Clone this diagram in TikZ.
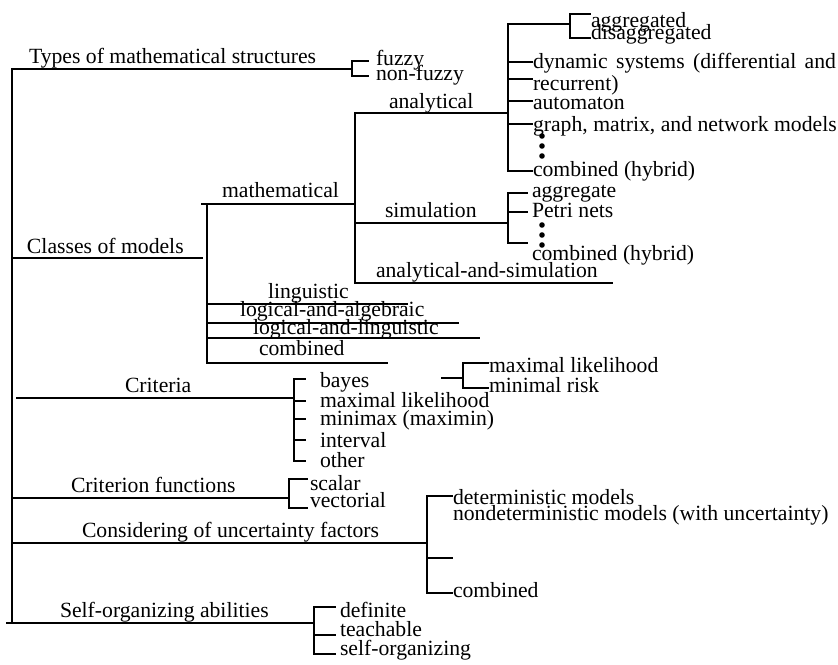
\documentclass[tikz,border=0pt]{standalone}
\usepackage{fontspec}
\setmainfont{Liberation Serif}
\begin{document}
\begin{tikzpicture}[x=1pt,y=-1pt,
  tree/.style={line width=1.3pt,line cap=rect},
  lbl/.style={anchor=base west,inner sep=0pt,outer sep=0pt,font=\fontsize{21.7}{22}\selectfont},
  dotmark/.style={circle,fill=black,inner sep=0pt,minimum size=5.6pt}]
\useasboundingbox (0,0) rectangle (838,664);

% ---------- trunk ----------
\coordinate (root-top) at (12,69);
\coordinate (root-bot) at (12,623);
\draw[tree] (root-top) -- (root-bot);

% ---------- types of mathematical structures ----------
\node[lbl] (types) at (29,63) {Types of mathematical structures};
\coordinate (fz-top) at (352,61);
\coordinate (fz-bot) at (352,76);
\coordinate (fz-a) at (368,61);
\coordinate (fz-b) at (368,76);
\draw[tree] (root-top) -- (root-top -| fz-top);
\draw[tree] (fz-a) -- (fz-top) -- (fz-bot) -- (fz-b);
\node[lbl] (fuzzy) at (376,65) {fuzzy};
\node[lbl] (nonfuzzy) at (376,80) {non-fuzzy};

% ---------- classes of models ----------
\node[lbl] (classes) at (27,253) {Classes of models};
\coordinate (cls-l) at (12,258);
\coordinate (cls-r) at (202,258);
\draw[tree] (cls-l) -- (cls-r);

\coordinate (mb-top) at (207,204);
\coordinate (mb-bot) at (207,363);
\draw[tree] (mb-top) -- (mb-bot);
\node[lbl] (mathematical) at (222,197) {mathematical};
\coordinate (ms-l) at (202,204);
\coordinate (ms-r) at (355,204);
\draw[tree] (ms-l) -- (ms-r);

% analytical / simulation bar
\coordinate (as-top) at (355,113);
\coordinate (as-bot) at (355,283);
\draw[tree] (as-top) -- (as-bot);

% analytical
\node[lbl] (analytical) at (389,108) {analytical};
\coordinate (ab-top) at (508,24);
\coordinate (ab-bot) at (508,171);
\draw[tree] (as-top) -- (as-top -| ab-top);
\draw[tree] (ab-top) -- (ab-bot);
\coordinate (ag-top) at (570,14);
\coordinate (ag-bot) at (570,38);
\draw[tree] (ab-top) -- (ab-top -| ag-top);
\draw[tree] (ag-top) -- (ag-bot);
\coordinate (ag-a) at (590,14);
\coordinate (ag-b) at (590,38);
\draw[tree] (ag-top) -- (ag-a);
\draw[tree] (ag-bot) -- (ag-b);
\node[lbl] (aggregated) at (591,27) {aggregated};
\node[lbl] (disaggregated) at (591,39) {disaggregated};
\foreach \yy/\nm in {62/dyn,79/rec,101/aut,124/gra,171/com} {
  \coordinate (an-\nm) at (532,\yy);
  \draw[tree] (ab-top |- an-\nm) -- (an-\nm);
}
\node[lbl] (dynamic) at (533,68) {\makebox[303pt][s]{dynamic systems (differential and}};
\node[lbl] (recurrent) at (533,90) {recurrent)};
\node[lbl] (automaton) at (533,109) {automaton};
\node[lbl] (graph) at (533,131) {graph, matrix, and network models};
\node[dotmark] (ad1) at (542,136) {};
\node[dotmark] (ad2) at (542,146) {};
\node[dotmark] (ad3) at (542,156) {};
\node[lbl] (anhybrid) at (533,176) {combined (hybrid)};

% simulation
\node[lbl] (simulation) at (385,217) {simulation};
\coordinate (sb-top) at (508,193);
\coordinate (sb-bot) at (508,243);
\coordinate (sim-l) at (355,223);
\draw[tree] (sim-l) -- (sim-l -| sb-top);
\draw[tree] (sb-top) -- (sb-bot);
\foreach \yy/\nm in {193/agg,212/pet,243/com} {
  \coordinate (sm-\nm) at (527,\yy);
  \draw[tree] (sb-top |- sm-\nm) -- (sm-\nm);
}
\node[lbl] (aggregate) at (532,197) {aggregate};
\node[lbl] (petri) at (532,217) {Petri nets};
\node[dotmark] (sd1) at (542,225) {};
\node[dotmark] (sd2) at (542,235) {};
\node[dotmark] (sd3) at (542,245) {};
\node[lbl] (simhybrid) at (532,260) {combined (hybrid)};

% analytical-and-simulation
\node[lbl] (anasim) at (376,277) {analytical-and-simulation};
\coordinate (asim-r) at (612,283);
\draw[tree] (as-bot) -- (asim-r);

% other classes
\node[lbl] (linguistic) at (268,298) {linguistic};
\node[lbl] (logalg) at (240,316) {logical-and-algebraic};
\node[lbl] (loglin) at (253,334) {logical-and-linguistic};
\node[lbl] (clscomb) at (259,355) {combined};
\foreach \yy/\xx/\nm in {304/407/lin,323/458/alg,338/479/llin,363/387/comb} {
  \coordinate (cl-\nm) at (\xx,\yy);
  \draw[tree] (mb-top |- cl-\nm) -- (cl-\nm);
}

% ---------- criteria ----------
\node[lbl] (criteria) at (125,392) {Criteria};
\coordinate (cr-l) at (17,398);
\coordinate (cr-r) at (294,398);
\draw[tree] (cr-l) -- (cr-r);
\coordinate (cb-top) at (294,379);
\coordinate (cb-bot) at (294,461);
\draw[tree] (cb-top) -- (cb-bot);
\foreach \yy/\nm in {379/bay,401/max,419/mmx,440/int,461/oth} {
  \coordinate (cr-\nm) at (305,\yy);
  \draw[tree] (cb-top |- cr-\nm) -- (cr-\nm);
}
\node[lbl] (bayes) at (320,387) {bayes};
\node[lbl] (maxlik) at (320,407) {maximal likelihood};
\node[lbl] (minimax) at (320,425) {minimax (maximin)};
\node[lbl] (interval) at (320,447) {interval};
\node[lbl] (other) at (320,467) {other};

\coordinate (by-l) at (442,378);
\coordinate (by-top) at (463,363);
\coordinate (by-bot) at (463,388);
\coordinate (by-a) at (488,363);
\coordinate (by-b) at (488,388);
\draw[tree] (by-l) -- (by-l -| by-top);
\draw[tree] (by-a) -- (by-top) -- (by-bot) -- (by-b);
\node[lbl] (bymax) at (489,372) {maximal likelihood};
\node[lbl] (byrisk) at (489,392) {minimal risk};

% ---------- criterion functions ----------
\node[lbl] (critfun) at (71,492) {Criterion functions};
\coordinate (cf-l) at (12,498);
\coordinate (cf-r) at (289,498);
\draw[tree] (cf-l) -- (cf-r);
\coordinate (cf-top) at (289,479);
\coordinate (cf-bot) at (289,508);
\coordinate (cf-a) at (307,479);
\coordinate (cf-b) at (307,508);
\draw[tree] (cf-a) -- (cf-top) -- (cf-bot) -- (cf-b);
\node[lbl] (scalar) at (310,490) {scalar};
\node[lbl] (vectorial) at (310,507) {vectorial};

% ---------- uncertainty ----------
\node[lbl] (uncert) at (82,537) {Considering of uncertainty factors};
\coordinate (un-l) at (12,543);
\coordinate (un-r) at (427,543);
\draw[tree] (un-l) -- (un-r);
\coordinate (ub-top) at (427,496);
\coordinate (ub-bot) at (427,593);
\draw[tree] (ub-top) -- (ub-bot);
\foreach \yy/\nm in {496/det,558/non,593/com} {
  \coordinate (un-\nm) at (452,\yy);
  \draw[tree] (ub-top |- un-\nm) -- (un-\nm);
}
\node[lbl] (determ) at (453,504) {deterministic models};
\node[lbl] (nondeterm) at (453,520) {nondeterministic models (with uncertainty)};
\node[lbl] (uncomb) at (453,597) {combined};

% ---------- self-organizing ----------
\node[lbl] (selforg) at (60,617) {Self-organizing abilities};
\coordinate (so-l) at (7,623);
\coordinate (so-r) at (314,623);
\draw[tree] (so-l) -- (so-r);
\coordinate (sob-top) at (314,607);
\coordinate (sob-bot) at (314,654);
\draw[tree] (sob-top) -- (sob-bot);
\foreach \yy/\nm in {607/def,635/tea,654/sel} {
  \coordinate (so-\nm) at (335,\yy);
  \draw[tree] (sob-top |- so-\nm) -- (so-\nm);
}
\node[lbl] (definite) at (340,617) {definite};
\node[lbl] (teachable) at (340,636) {teachable};
\node[lbl] (selforganizing) at (340,655) {self-organizing};
\end{tikzpicture}
\end{document}
